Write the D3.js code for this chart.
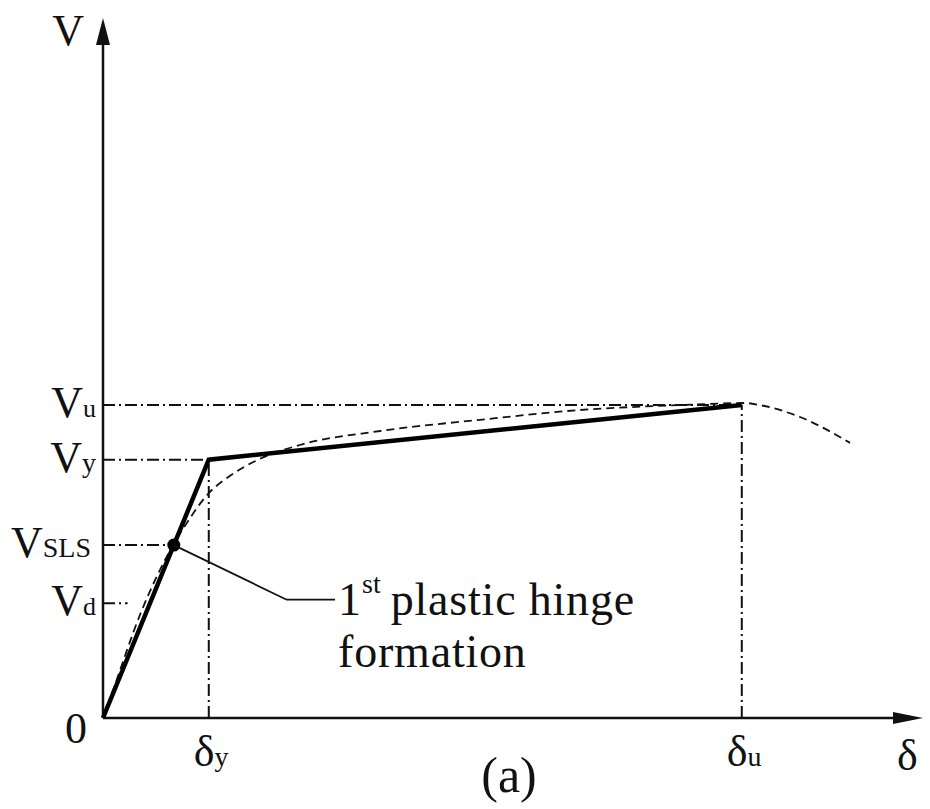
<!DOCTYPE html>
<html>
<head>
<meta charset="utf-8">
<script src="https://cdn.jsdelivr.net/npm/d3@7"></script>
<style>
  body { margin: 0; background: #fff; }
  text { font-family: "Liberation Serif", "Times New Roman", "DejaVu Serif", serif; fill: #111; }
</style>
</head>
<body>
<div id="chart"></div>
<script>
// characteristic points of the idealised capacity curve (axis units 0-100)
var deltaY = 12.9, deltaU = 77.9;
var vU = 44.7, vY = 36.9, vSLS = 24.7, vD = 16.4;

// bilinear idealisation (thick line)
var bilinear = [[0, 0], [deltaY, vY], [deltaU, vU]];

var pushover = [
  [0, 0], [1.2, 3.9], [4.6, 15.0], [8.5, 24.6], [10.3, 28.0], [12.8, 32.0],
  [15.5, 34.6], [19.1, 37.0], [24.0, 39.0], [33.8, 41.0], [46.0, 42.6],
  [58.2, 44.0], [70.4, 44.7], [78.3, 45.0], [80.1, 44.7], [85.0, 43.0], [91.1, 39.3]
];

// y labels: [value, main, subscript, subscript size]
var yLabels = [[vU, "V", "u", 26], [vY, "V", "y", 28], [vSLS, "V", "SLS", 28], [vD, "V", "d", 26]];
// x labels
var xLabels = [[deltaY, "δ", "y"], [deltaU, "δ", "u"]];

var width = 930, height = 809;

var svg = d3.select("#chart")
  .append("svg")
    .attr("width", width)
    .attr("height", height);

var x = d3.scaleLinear().domain([0, 100]).range([103, 923]);
var y = d3.scaleLinear().domain([0, 100]).range([718, 18]);

// hinge position on the elastic branch
var hingeX = deltaY * vSLS / vY;

var dashDot = "12,4,2,4";

// reference lines
var refs = [
  [[0, vU], [deltaU, vU]],
  [[0, vY], [deltaY, vY]],
  [[0, vSLS], [hingeX, vSLS]],
  [[0, vD], [3.0, vD]],
  [[deltaY, 0], [deltaY, vY]],
  [[deltaU, 0], [deltaU, vU]]
];
svg.selectAll(".ref")
  .data(refs)
  .enter()
  .append("line")
    .attr("class", "ref")
    .attr("x1", function(d){ return x(d[0][0]); })
    .attr("y1", function(d){ return y(d[0][1]); })
    .attr("x2", function(d){ return x(d[1][0]); })
    .attr("y2", function(d){ return y(d[1][1]); })
    .attr("stroke", "#111")
    .attr("stroke-width", 2)
    .attr("stroke-dasharray", dashDot);

// axes with arrow heads
svg.append("line")
  .attr("x1", x(0)).attr("y1", y(0))
  .attr("x2", x(100) - 10).attr("y2", y(0))
  .attr("stroke", "#111").attr("stroke-width", 2.5);
svg.append("line")
  .attr("x1", x(0)).attr("y1", y(0))
  .attr("x2", x(0)).attr("y2", y(100) + 10)
  .attr("stroke", "#111").attr("stroke-width", 2.5);

svg.append("path")
  .attr("d", "M" + x(100) + "," + y(0) + " l-30,-6 l0,12 z")
  .attr("fill", "#111");
svg.append("path")
  .attr("d", "M" + x(0) + "," + y(100) + " l-7,27 l14,0 z")
  .attr("fill", "#111");

var line = d3.line()
  .x(function(d){ return x(d[0]); })
  .y(function(d){ return y(d[1]); });

// dashed pushover curve
svg.append("path")
  .datum(pushover)
  .attr("fill", "none")
  .attr("stroke", "#111")
  .attr("stroke-width", 1.8)
  .attr("stroke-dasharray", "8,5")
  .attr("d", line.curve(d3.curveMonotoneX));

// bilinear curve
svg.append("path")
  .datum(bilinear)
  .attr("fill", "none")
  .attr("stroke", "#000")
  .attr("stroke-width", 4.5)
  .attr("stroke-linejoin", "miter")
  .attr("d", d3.line()
    .x(function(d){ return x(d[0]); })
    .y(function(d){ return y(d[1]); }));

// first plastic hinge
svg.append("circle")
  .attr("cx", x(hingeX)).attr("cy", y(vSLS))
  .attr("r", 6.5).attr("fill", "#000");

// leader line to annotation
var leader = [[hingeX, vSLS], [22.4, 16.9], [28.3, 16.9]];
svg.append("path")
  .datum(leader)
  .attr("fill", "none")
  .attr("stroke", "#111")
  .attr("stroke-width", 1.8)
  .attr("d", d3.line()
    .x(function(d){ return x(d[0]); })
    .y(function(d){ return y(d[1]); }));

// annotation, pieces laid out one after another
var ax = x(28.3) + 3, ay = y(16.9) + 15;
var one = svg.append("text").attr("x", ax).attr("y", ay)
  .attr("font-size", 46).text("1");
var ax2 = ax + one.node().getComputedTextLength() + 1;
var sup = svg.append("text").attr("x", ax2).attr("y", ay - 22)
  .attr("font-size", 28).text("st");
var ax3 = ax2 + sup.node().getComputedTextLength() + 10;
svg.append("text").attr("x", ax3).attr("y", ay)
  .attr("font-size", 46).attr("letter-spacing", 0.8).text("plastic hinge");
svg.append("text")
  .attr("x", ax).attr("y", ay + 52)
  .attr("font-size", 46).attr("letter-spacing", 0.8)
  .text("formation");

// y labels
yLabels.forEach(function(d){
  var t = svg.append("text")
    .attr("x", d[2] === "SLS" ? 91 : 96)
    .attr("y", y(d[0]) + 12)
    .attr("text-anchor", "end")
    .attr("font-size", 44);
  t.append("tspan").text(d[1]);
  t.append("tspan").attr("font-size", d[3]).text(d[2]);
});

// x labels
xLabels.forEach(function(d){
  var t = svg.append("text")
    .attr("x", x(d[0]) - 15)
    .attr("y", y(0) + 48)
    .attr("font-size", 44);
  t.append("tspan").text(d[1]);
  t.append("tspan").attr("font-size", 28).text(d[2]);
});

svg.append("text").attr("x", 87).attr("y", 743).attr("text-anchor", "end")
  .attr("font-size", 44).text("0");
svg.append("text").attr("x", 84).attr("y", 45).attr("text-anchor", "end")
  .attr("font-size", 44).text("V");
svg.append("text").attr("x", 897).attr("y", 770)
  .attr("font-size", 44).text("δ");
svg.append("text").attr("x", 509).attr("y", 792).attr("text-anchor", "middle")
  .attr("font-size", 50).text("(a)");
</script>
</body>
</html>
